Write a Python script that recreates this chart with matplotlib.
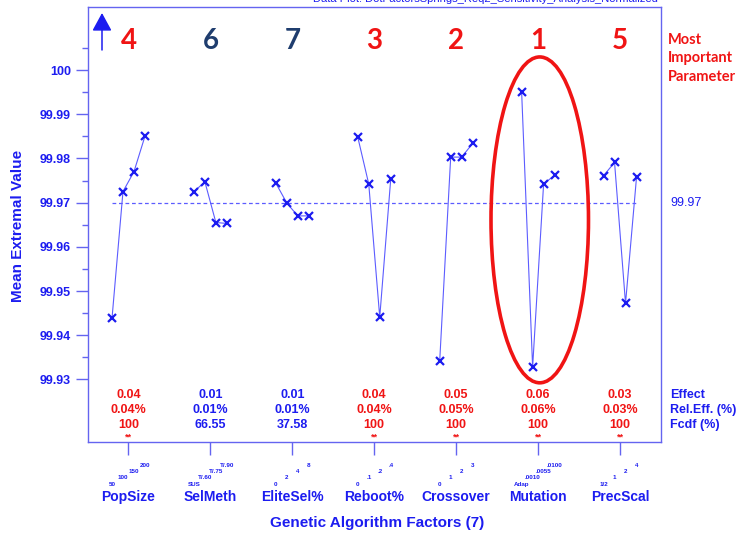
"""
Main effects plot for the GA sensitivity analysis (DOE style).
"""

import matplotlib
matplotlib.use('Agg')
import matplotlib.pyplot as plt
from matplotlib.patches import Ellipse
from matplotlib.transforms import blended_transform_factory
import numpy as np

plt.rcParams['font.family'] = ['Liberation Sans', 'DejaVu Sans']

# 因子与水平
factors = ['PopSize', 'SelMeth', 'EliteSel%', 'Reboot%', 'Crossover', 'Mutation', 'PrecScal']
levels = [
    ['50', '100', '150', '200'],
    ['SUS', 'T/.60', 'T/.75', 'T/.90'],
    ['0', '2', '4', '8'],
    ['0', '.1', '.2', '.4'],
    ['0', '1', '2', '3'],
    ['Adap', '.0010', '.0055', '.0100'],
    ['1/2', '1', '2', '4'],
]

# 各水平的均值
means = [
    [99.9438, 99.9725, 99.9770, 99.9850],
    [99.9725, 99.9747, 99.9655, 99.9653],
    [99.9744, 99.9699, 99.9670, 99.9670],
    [99.9848, 99.9742, 99.9441, 99.9753],
    [99.9342, 99.9803, 99.9803, 99.9834],
    [99.9950, 99.9328, 99.9742, 99.9762],
    [99.9761, 99.9791, 99.9472, 99.9757],
]
grand_mean = 99.97

# 统计表
effects = ['0.04', '0.01', '0.01', '0.04', '0.05', '0.06', '0.03']
rel_effects = ['0.04%', '0.01%', '0.01%', '0.04%', '0.05%', '0.06%', '0.03%']
fcdf = ['100', '66.55', '37.58', '100', '100', '100', '100']
significant = [True, False, False, True, True, True, True]
ranks = ['4', '6', '7', '3', '2', '1', '5']

BLUE = '#1c1cf0'
LINE_BLUE = '#5c5cff'
FRAME = '#6464f0'
RED = '#f01414'
NAVY = '#1f3d6e'

fig = plt.figure(figsize=(7.42, 5.33), dpi=100)
ax = fig.add_axes([87.5 / 742, 91 / 533, 573.5 / 742, 435 / 533])

offsets = np.array([-1.5, -0.5, 0.5, 1.5]) * 0.134
x_centers = np.arange(len(factors))

# 折线 + X 标记
for i, vals in enumerate(means):
    xs = x_centers[i] + offsets
    ax.plot(xs, vals, color=LINE_BLUE, linewidth=0.8, zorder=2)
    ax.plot(xs, vals, linestyle='none', marker='x', markersize=6,
            markeredgewidth=1.6, color=BLUE, zorder=3)

# 总均值虚线
ax.plot([x_centers[0] + offsets[0], x_centers[-1] + offsets[-1]],
        [grand_mean, grand_mean], color=LINE_BLUE, linewidth=0.9,
        dashes=(3, 2.2), zorder=1)

# 红色椭圆 (Mutation)
ax.add_patch(Ellipse((5.02, 99.9661), 1.19, 0.0737, fill=False,
                     edgecolor=RED, linewidth=2.6, zorder=4))

# 坐标轴范围与刻度
ax.set_xlim(-0.5, 6.5)
ax.set_ylim(99.91586, 100.01425)
ax.set_xticks(x_centers)
ax.set_xticklabels([])
ax.set_yticks(np.round(np.arange(99.93, 100.001, 0.01), 2))
ax.set_yticklabels(['99.93', '99.94', '99.95', '99.96', '99.97', '99.98', '99.99', '100'])
ax.set_yticks(np.round(np.arange(99.935, 100.006, 0.01), 3), minor=True)
ax.tick_params(axis='y', which='major', direction='out', length=9, width=1,
               color=FRAME, labelcolor=BLUE, labelsize=9, pad=3)
ax.tick_params(axis='y', which='minor', direction='out', length=4.5, width=1,
               color=FRAME)
ax.tick_params(axis='x', which='major', direction='out', length=9.5, width=1,
               color=FRAME)
for lab in ax.get_yticklabels():
    lab.set_fontweight('bold')
for sp in ax.spines.values():
    sp.set_color(FRAME)
    sp.set_linewidth(1)

trans = blended_transform_factory(ax.transData, ax.transAxes)

# 表格数值
for i in range(len(factors)):
    c = RED if significant[i] else BLUE
    ax.text(i, 0.108, effects[i], transform=trans, ha='center', va='center',
            fontsize=9, color=c, fontweight='bold')
    ax.text(i, 0.073, rel_effects[i], transform=trans, ha='center', va='center',
            fontsize=9, color=c, fontweight='bold')
    ax.text(i, 0.038, fcdf[i], transform=trans, ha='center', va='center',
            fontsize=9, color=c, fontweight='bold')
    if significant[i]:
        ax.text(i, 0.012, '**', transform=trans, ha='center', va='center',
                fontsize=6.5, color=RED, fontweight='bold')
    # 重要性排名
    ax.text(i, 100.0066, ranks[i], ha='center', va='center', fontsize=20,
            fontweight='bold', family=['Lato', 'DejaVu Sans'],
            color=RED if ranks[i] not in ('6', '7') else NAVY)
    # 水平标签 (阶梯状)
    for j, lv in enumerate(levels[i]):
        ax.text(i + offsets[j], -0.0966 + 0.0145 * j, lv, transform=trans,
                ha='center', va='center', fontsize=4.5, fontweight='bold',
                color=BLUE, clip_on=False)
    # 因子名称
    ax.text(i, -0.126, factors[i], transform=trans, ha='center', va='center',
            fontsize=10, fontweight='bold', color=BLUE, clip_on=False)

# 右侧标签
rx = 1 + 9 / 573.5
ax.text(rx, grand_mean, '99.97', transform=blended_transform_factory(ax.transAxes, ax.transData),
        ha='left', va='center', fontsize=9, color=BLUE)
for yy, lab in zip([0.108, 0.073, 0.038], ['Effect', 'Rel.Eff. (%)', 'Fcdf (%)']):
    ax.text(rx, yy, lab, transform=ax.transAxes, ha='left', va='center',
            fontsize=9, fontweight='bold', color=BLUE)
for yy, lab in zip([493, 475, 456], ['Most', 'Important', 'Parameter']):
    fig.text(668 / 742, yy / 533, lab, ha='left', va='center', fontsize=10.5,
             fontweight='bold', family=['Lato', 'DejaVu Sans'], color=RED)

# 左上角箭头
ax.annotate('', xy=(102, 520), xytext=(102, 483), xycoords='figure pixels',
            textcoords='figure pixels',
            arrowprops=dict(arrowstyle='-|>,head_length=0.55,head_width=0.3',
                            mutation_scale=20, color=BLUE, linewidth=1.1,
                            shrinkA=0, shrinkB=0))

# 轴标题
fig.text(18 / 742, 0.5 + 89 / 533 / 2 - 0.008, 'Mean Extremal Value', rotation=90,
         ha='center', va='center', fontsize=11, fontweight='bold', color=BLUE)
fig.text(377 / 742, 10 / 533, 'Genetic Algorithm Factors (7)', ha='center',
         va='center', fontsize=11, fontweight='bold', color=BLUE)

# 顶部被裁切的标题
fig.text(658 / 742, 1 - 2.5 / 533, 'Data Plot: DotFactorsSprings_Req2_Sensitivity_Analysis_Normalized',
         ha='right', va='baseline', fontsize=8, color=BLUE)

fig.savefig('out.png', dpi=100)
